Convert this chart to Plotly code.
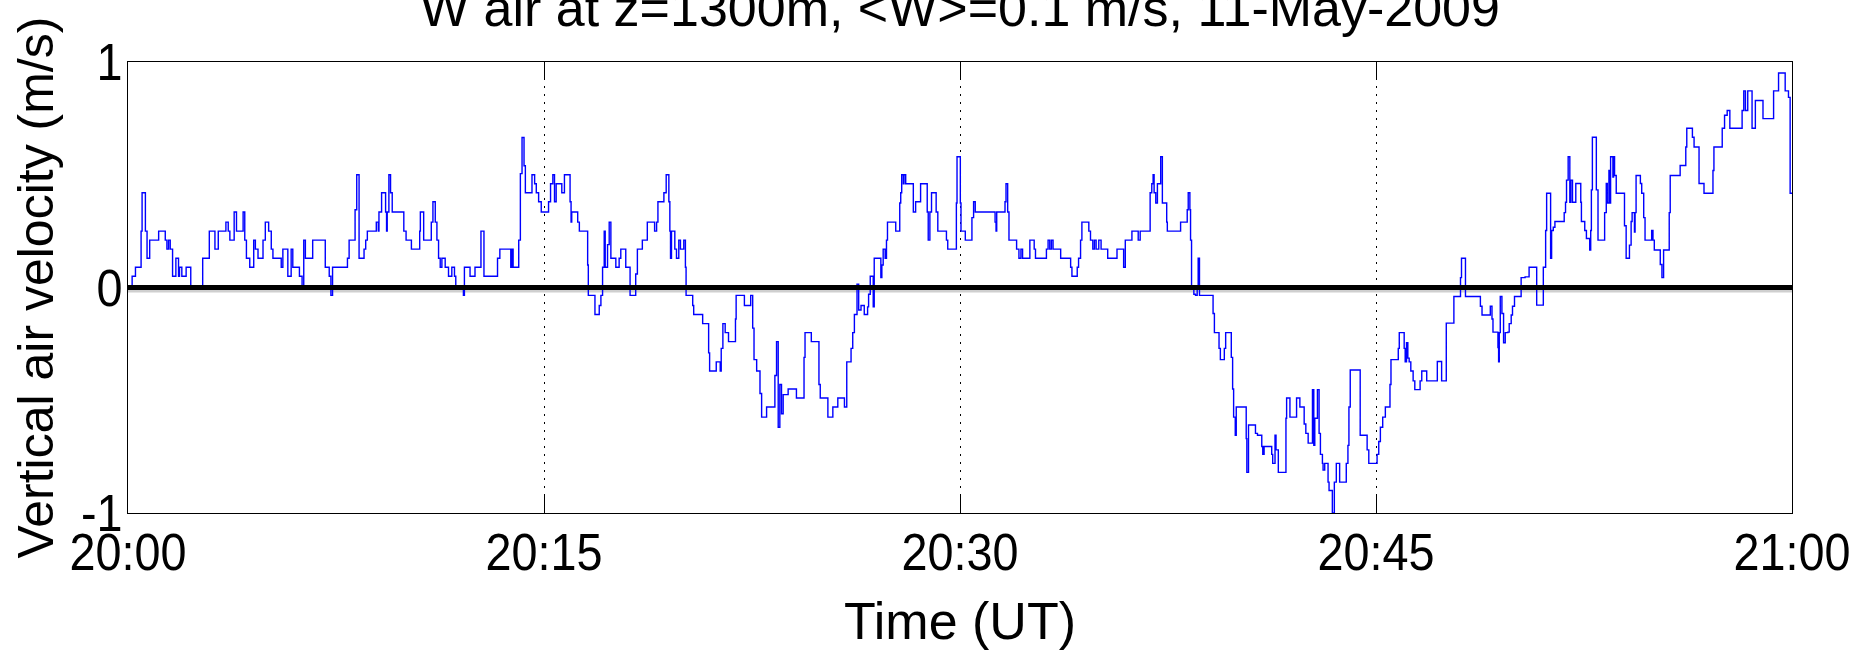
import pandas as pd
import plotly.graph_objects as go

# Vertical air velocity at z = 1300 m, 11 May 2009, 20:00-21:00 UT.
# Times are minutes after 20:00 UT; each value holds until the next sample.

t_q1 = [0.0, 0.03, 0.149, 0.269, 0.472, 0.508, 0.627, 0.687, 0.782, 1.105,
        1.344, 1.403, 1.463, 1.523, 1.607, 1.726, 1.822, 1.857, 1.941, 2.096,
        2.263, 2.693, 2.932, 3.135, 3.255, 3.530, 3.614, 3.673, 3.828, 3.912,
        4.151, 4.210, 4.270, 4.390, 4.533, 4.593, 4.688, 4.868, 4.951, 5.071,
        5.166, 5.226, 5.525, 5.584, 5.763, 5.883, 5.942, 6.181, 6.277, 6.337,
        6.396, 6.659, 7.113, 7.256, 7.316, 7.376, 7.913, 7.973, 8.188, 8.248,
        8.332, 8.511, 8.571, 8.630, 8.953, 9.025, 9.049, 9.144, 9.288, 9.323,
        9.347, 9.407, 9.467, 9.527, 9.945, 10.027, 10.219, 10.518, 10.542, 10.661,
        10.936, 10.995, 11.079, 11.139, 11.198, 11.258, 11.318, 11.437, 11.557, 11.676,
        11.772, 11.819, 12.094, 12.130, 12.333, 12.512, 12.727, 12.835, 13.324, 13.408,
        13.802, 13.850, 13.886, 14.089, 14.148, 14.208, 14.280, 14.328, 14.567, 14.662,
        14.722, 14.806, 14.901, 15.164, 15.236, 15.319, 15.379, 15.439, 15.642, 15.737]
w_q1 = [0.0, 0.0, 0.05, 0.09, 0.25, 0.42, 0.25, 0.13, 0.21, 0.25,
        0.21, 0.17, 0.21, 0.17, 0.05, 0.13, 0.05, 0.09, 0.05, 0.09,
        0.0, 0.13, 0.25, 0.17, 0.25, 0.29, 0.25, 0.21, 0.335, 0.25,
        0.335, 0.21, 0.13, 0.09, 0.21, 0.17, 0.13, 0.21, 0.29, 0.25,
        0.17, 0.13, 0.09, 0.17, 0.05, 0.17, 0.09, 0.05, 0.0, 0.21,
        0.13, 0.21, 0.09, 0.05, -0.035, 0.09, 0.13, 0.21, 0.345, 0.50,
        0.13, 0.17, 0.21, 0.25, 0.29, 0.25, 0.335, 0.42, 0.335, 0.25,
        0.335, 0.50, 0.42, 0.335, 0.25, 0.21, 0.17, 0.25, 0.335, 0.21,
        0.29, 0.38, 0.29, 0.21, 0.13, 0.09, 0.13, 0.09, 0.05, 0.09,
        0.05, 0.0, -0.035, 0.09, 0.05, 0.09, 0.25, 0.05, 0.13, 0.17,
        0.09, 0.17, 0.09, 0.21, 0.505, 0.665, 0.54, 0.42, 0.50, 0.46,
        0.42, 0.38, 0.335, 0.38, 0.46, 0.50, 0.38, 0.46, 0.42, 0.50]

t_q2 = [15.940, 15.976, 16.000, 16.215, 16.275, 16.574, 16.598, 16.837, 16.992, 17.052,
        17.112, 17.171, 17.207, 17.291, 17.351, 17.411, 17.590, 17.709, 17.769, 17.948,
        18.104, 18.307, 18.367, 18.546, 18.725, 18.988, 19.060, 19.108, 19.323, 19.406,
        19.502, 19.538, 19.562, 19.597, 19.717, 19.777, 19.860, 19.920, 20.040, 20.099,
        20.123, 20.362, 20.398, 20.721, 20.936, 20.972, 21.211, 21.354, 21.390, 21.450,
        21.533, 21.653, 21.904, 21.928, 22.226, 22.453, 22.525, 22.573, 22.668, 22.788,
        22.847, 23.026, 23.325, 23.385, 23.445, 23.504, 23.564, 23.624, 23.803, 24.102,
        24.376, 24.412, 24.639, 24.914, 24.961, 25.236, 25.415, 25.594, 25.833, 25.917,
        26.072, 26.132, 26.192, 26.287, 26.347, 26.431, 26.548, 26.668, 26.704, 26.764,
        26.871, 26.907, 27.146, 27.182, 27.230, 27.301, 27.349, 27.385, 27.683, 27.827,
        27.863, 27.898, 27.958, 27.982, 28.042, 28.317, 28.400, 28.579, 28.818, 28.854,
        28.914, 28.973, 29.140, 29.200, 29.511, 29.558, 29.869, 29.893, 30.012, 30.036,
        30.191, 30.430, 30.490, 30.550]
w_q2 = [0.38, 0.29, 0.335, 0.29, 0.25, 0.10, -0.035, -0.12, -0.08, -0.035,
        0.09, 0.25, 0.09, 0.19, 0.29, 0.13, 0.09, 0.13, 0.17, 0.09,
        -0.035, 0.06, 0.17, 0.21, 0.29, 0.25, 0.29, 0.38, 0.42, 0.50,
        0.38, 0.25, 0.13, 0.25, 0.17, 0.13, 0.21, 0.17, 0.21, 0.09,
        -0.035, -0.08, -0.12, -0.16, -0.29, -0.37, -0.33, -0.37, -0.27, -0.16,
        -0.20, -0.24, -0.14, -0.035, -0.08, -0.035, -0.18, -0.32, -0.37, -0.47,
        -0.575, -0.53, -0.39, -0.24, -0.62, -0.43, -0.56, -0.475, -0.45, -0.49,
        -0.31, -0.20, -0.24, -0.43, -0.49, -0.575, -0.53, -0.49, -0.53, -0.33,
        -0.27, -0.20, -0.12, 0.015, -0.10, -0.08, -0.12, -0.086, -0.03, 0.05,
        -0.086, 0.13, 0.044, 0.10, 0.17, 0.13, 0.21, 0.29, 0.25, 0.375,
        0.42, 0.50, 0.46, 0.50, 0.46, 0.335, 0.38, 0.46, 0.335, 0.21,
        0.335, 0.42, 0.335, 0.25, 0.21, 0.17, 0.375, 0.58, 0.375, 0.25,
        0.21, 0.31, 0.38, 0.335]

t_q3 = [31.265, 31.300, 31.324, 31.623, 31.659, 31.719, 31.766, 32.041, 32.125, 32.197,
        32.256, 32.519, 32.675, 32.722, 33.116, 33.176, 33.236, 33.296, 33.355, 33.630,
        33.989, 34.036, 34.227, 34.275, 34.347, 34.395, 34.645, 34.705, 34.789, 34.848,
        34.908, 35.004, 35.087, 35.326, 35.661, 35.900, 35.960, 36.199, 36.426, 36.497,
        36.856, 36.915, 36.963, 36.999, 37.059, 37.118, 37.238, 37.297, 37.453, 37.476,
        37.954, 38.193, 38.229, 38.289, 38.313, 38.349, 38.432, 38.492, 38.552, 38.588,
        38.635, 39.125, 39.173, 39.340, 39.388, 39.531, 39.579, 39.782, 39.830, 39.866,
        39.925, 39.961, 40.320, 40.343, 40.403, 40.654, 40.726, 40.881, 40.917, 40.965,
        41.240, 41.275, 41.359, 41.395, 41.478, 41.753, 41.777, 41.897, 42.136, 42.255,
        42.410, 42.470, 42.554, 42.709, 42.757, 42.793, 42.888, 42.948, 42.996, 43.068,
        43.092, 43.151, 43.271, 43.307, 43.426, 43.498, 43.569, 43.689, 43.928, 43.988,
        44.024, 44.071, 44.430, 44.680, 44.740, 45.039, 45.099, 45.158, 45.242, 45.337,
        45.504, 45.540, 45.803, 45.839]
w_q3 = [0.29, 0.25, 0.335, 0.38, 0.46, 0.335, 0.21, 0.17, 0.13, 0.17,
        0.13, 0.21, 0.17, 0.13, 0.17, 0.21, 0.17, 0.21, 0.17, 0.13,
        0.09, 0.05, 0.09, 0.13, 0.21, 0.29, 0.25, 0.21, 0.17, 0.21,
        0.17, 0.21, 0.17, 0.13, 0.17, 0.09, 0.21, 0.25, 0.21, 0.25,
        0.42, 0.46, 0.50, 0.42, 0.375, 0.46, 0.58, 0.375, 0.29, 0.25,
        0.29, 0.345, 0.42, 0.345, 0.21, 0.0, -0.03, -0.035, 0.0, 0.13,
        -0.035, -0.115, -0.20, -0.27, -0.32, -0.27, -0.20, -0.31, -0.45, -0.575,
        -0.655, -0.53, -0.67, -0.82, -0.61, -0.647, -0.655, -0.705, -0.74, -0.705,
        -0.74, -0.78, -0.655, -0.72, -0.82, -0.58, -0.49, -0.575, -0.49, -0.53,
        -0.605, -0.647, -0.69, -0.453, -0.70, -0.58, -0.453, -0.647, -0.74, -0.78,
        -0.81, -0.78, -0.863, -0.90, -1.0, -0.863, -0.78, -0.863, -0.78, -0.70,
        -0.53, -0.366, -0.655, -0.72, -0.78, -0.74, -0.683, -0.62, -0.575, -0.53,
        -0.43, -0.32, -0.27, -0.20]

t_q4 = [46.016, 46.052, 46.100, 46.148, 46.196, 46.255, 46.339, 46.399, 46.590, 46.650,
        46.829, 47.211, 47.366, 47.534, 47.808, 48.047, 48.083, 48.226, 48.764, 48.823,
        49.122, 49.182, 49.218, 49.397, 49.421, 49.445, 49.481, 49.540, 49.600, 49.660,
        49.755, 49.803, 49.875, 49.922, 49.994, 50.233, 50.376, 50.520, 50.794, 51.033,
        51.117, 51.153, 51.296, 51.332, 51.392, 51.451, 51.786, 51.834, 51.870, 51.929,
        51.989, 52.025, 52.085, 52.204, 52.383, 52.407, 52.527, 52.587, 52.706, 52.742,
        52.766, 52.802, 52.945, 53.005, 53.244, 53.303, 53.339, 53.399, 53.423, 53.459,
        53.542, 53.566, 53.602, 53.662, 53.960, 54.020, 54.139, 54.199, 54.235, 54.319,
        54.342, 54.378, 54.533, 54.581, 54.653, 54.701, 54.940, 54.987, 55.035, 55.250,
        55.310, 55.370, 55.573, 55.609, 55.967, 56.170, 56.206, 56.409, 56.469, 56.648,
        56.827, 57.150, 57.185, 57.484, 57.568, 57.663, 57.759, 58.201, 58.261, 58.321,
        58.404, 58.560, 58.679, 58.954, 59.336, 59.515, 59.754, 59.873, 59.933, 60.0]
w_q4 = [-0.27, -0.33, -0.245, -0.313, -0.33, -0.37, -0.414, -0.453, -0.414, -0.37,
        -0.414, -0.328, -0.414, -0.158, -0.04, 0.044, 0.13, -0.04, -0.083, -0.122,
        -0.083, -0.14, -0.198, -0.266, -0.33, -0.20, -0.04, -0.115, -0.245, -0.20,
        -0.198, -0.16, -0.122, -0.083, -0.04, 0.044, 0.047, 0.09, -0.078, 0.09,
        0.253, 0.418, 0.130, 0.253, 0.267, 0.293, 0.332, 0.378, 0.476, 0.580,
        0.378, 0.476, 0.378, 0.461, 0.378, 0.293, 0.253, 0.217, 0.166, 0.253,
        0.433, 0.666, 0.433, 0.210, 0.332, 0.461, 0.375, 0.519, 0.375, 0.580,
        0.490, 0.580, 0.497, 0.418, 0.274, 0.130, 0.188, 0.293, 0.332, 0.246,
        0.332, 0.497, 0.461, 0.418, 0.310, 0.210, 0.253, 0.210, 0.166, 0.102,
        0.044, 0.166, 0.332, 0.497, 0.541, 0.623, 0.706, 0.666, 0.623, 0.461,
        0.418, 0.519, 0.623, 0.706, 0.764, 0.785, 0.706, 0.785, 0.872, 0.785,
        0.872, 0.706, 0.829, 0.749, 0.872, 0.951, 0.872, 0.843, 0.418, 0.418]

tick_labels = ["20:00", "20:15", "20:30", "20:45", "21:00"]
y_ticks = [-1, 0, 1]

start = pd.Timestamp("2009-05-11 20:00:00")
minutes = t_q1 + t_q2 + t_q3 + t_q4
w_air = w_q1 + w_q2 + w_q3 + w_q4
times = [start + pd.Timedelta(minutes=m) for m in minutes]
tick_times = [start + pd.Timedelta(minutes=15 * i) for i in range(len(tick_labels))]

FONT = "Liberation Sans, Arial, Helvetica, sans-serif"

fig = go.Figure()
fig.add_trace(go.Scatter(
    x=times, y=w_air, mode="lines",
    line=dict(color="#0000ff", width=1.4, shape="hv"),
    showlegend=False, hoverinfo="skip",
))

# zero reference: thick black line with a grey shadow beneath
fig.add_shape(type="rect", xref="paper", x0=0, x1=1, y0=-0.022, y1=0,
              fillcolor="#cfcfcf", line_width=0, layer="below")
fig.add_shape(type="line", xref="paper", x0=0, x1=1, y0=0, y1=0,
              line=dict(color="black", width=5), layer="above")

fig.update_layout(
    width=1869, height=652,
    margin=dict(l=128, r=67, t=62, b=127),
    paper_bgcolor="white", plot_bgcolor="white",
    font=dict(family=FONT, size=52, color="black"),
    title=dict(
        text="W air at z=1300m, &lt;W&gt;=0.1 m/s, 11-May-2009",
        x=0.5, xref="paper", xanchor="center",
        y=1 - 26 / 652, yref="container", yanchor="bottom",
        font=dict(family=FONT, size=52, color="black"),
    ),
    xaxis=dict(
        type="date",
        range=[tick_times[0], tick_times[-1]],
        tickvals=tick_times, ticktext=tick_labels,
        ticks="inside", ticklen=17, tickwidth=1.2, tickcolor="black",
        showline=True, linecolor="black", linewidth=1.2, mirror="allticks",
        showgrid=True, gridcolor="black", gridwidth=1, griddash="2px,6px",
        zeroline=False,
        tickfont=dict(family=FONT, size=52, color="black"),
        ticklabelstandoff=-7,
        title=dict(text="Time (UT)", standoff=23,
                   font=dict(family=FONT, size=52, color="black")),
    ),
    yaxis=dict(
        range=[-1, 1],
        tickvals=y_ticks, ticktext=[str(v) for v in y_ticks],
        ticks="inside", ticklen=17, tickwidth=1.2, tickcolor="black",
        showline=True, linecolor="black", linewidth=1.2, mirror="allticks",
        showgrid=False, zeroline=False,
        tickfont=dict(family=FONT, size=52, color="black"),
        ticklabelstandoff=-6,
        title=dict(text="Vertical air velocity (m/s)", standoff=6,
                   font=dict(family=FONT, size=50, color="black")),
    ),
)

# tick labels are set in a slightly condensed face
condense_ticks = """
var gd = document.getElementById('{plot_id}');
gd.querySelectorAll('.xtick text, .ytick text').forEach(function (t) {
    var w = t.getComputedTextLength();
    t.setAttribute('textLength', (w * 0.9).toFixed(1));
    t.setAttribute('lengthAdjust', 'spacingAndGlyphs');
});
"""

fig.write_html("out.html", post_script=condense_ticks)
